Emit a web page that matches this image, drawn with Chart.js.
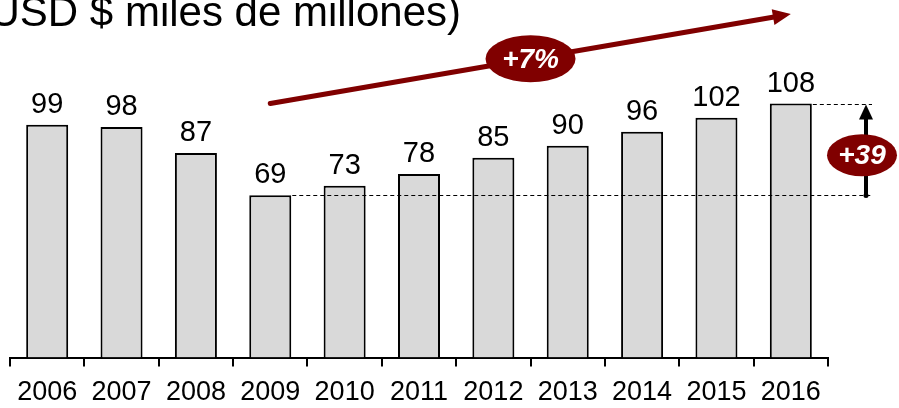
<!DOCTYPE html>
<html>
<head>
<meta charset="utf-8">
<script src="https://cdn.jsdelivr.net/npm/chart.js@4"></script>
<style>
    html, body { margin: 0; padding: 0; background: #ffffff; }
    #box { width: 899px; height: 408px; }
</style>
</head>
<body>
<div id="box"><canvas id="ventas"></canvas></div>
<script>
// datos (USD $ miles de millones)
const years = ['2006','2007','2008','2009','2010','2011','2012','2013','2014','2015','2016'];
const values = [99, 98, 87, 69, 73, 78, 85, 90, 96, 102, 108];
const trendFrom = [3, 108];   // indice de categoria, valor
const trendTo = [10, 146];
const trendLabel = '+7%';
const gapLabel = '+39';
const titleText = 'USD $ miles de millones)';

const RED = '#800000';

function ellipse(ctx, x, y, w, h, text, size) {
    ctx.save();
    ctx.fillStyle = RED;
    ctx.beginPath();
    ctx.ellipse(x, y, w / 2, h / 2, 0, 0, Math.PI * 2);
    ctx.fill();
    ctx.fillStyle = '#ffffff';
    ctx.font = 'italic bold ' + size + 'px "Liberation Sans", Arial, sans-serif';
    ctx.textAlign = 'center';
    ctx.textBaseline = 'middle';
    ctx.fillText(text, x, y + 1);
    ctx.restore();
}

const extras = {
    id: 'extras',
    afterDatasetsDraw(chart) {
        const ctx = chart.ctx;
        const xs = chart.scales.x;
        const ys = chart.scales.y;
        const meta = chart.getDatasetMeta(0);
        const area = chart.chartArea;

        // etiquetas de valor
        ctx.save();
        ctx.fillStyle = '#000';
        ctx.font = '29px "Liberation Sans", Arial, sans-serif';
        ctx.textAlign = 'center';
        ctx.textBaseline = 'alphabetic';
        meta.data.forEach(function(bar, i) {
            ctx.fillText(String(values[i]), bar.x, bar.y - 12);
        });
        ctx.restore();

        // lineas punteadas min / max
        const iMin = values.indexOf(Math.min.apply(null, values));
        const iMax = values.indexOf(Math.max.apply(null, values));
        const barMin = meta.data[iMin];
        const barMax = meta.data[iMax];
        const lineEnd = area.right + 44;
        const yMin = Math.round(ys.getPixelForValue(values[iMin])) + 0.5;
        const yMax = Math.round(ys.getPixelForValue(values[iMax])) + 0.5;
        ctx.save();
        ctx.strokeStyle = '#000';
        ctx.lineWidth = 1;
        ctx.setLineDash([4, 3]);
        ctx.beginPath();
        ctx.moveTo(barMin.x + barMin.width / 2 + 1, yMin);
        ctx.lineTo(lineEnd, yMin);
        ctx.moveTo(barMax.x + barMax.width / 2 + 1, yMax);
        ctx.lineTo(lineEnd, yMax);
        ctx.stroke();
        ctx.restore();

        // flecha vertical de diferencia
        const ax = area.right + 38;
        ctx.save();
        ctx.strokeStyle = '#000';
        ctx.fillStyle = '#000';
        ctx.lineWidth = 4;
        ctx.beginPath();
        ctx.moveTo(ax, yMin);
        ctx.lineTo(ax, yMax + 12);
        ctx.stroke();
        ctx.beginPath();
        ctx.arc(ax, yMin, 2.5, 0, Math.PI * 2);
        ctx.fill();
        ctx.beginPath();
        ctx.moveTo(ax, yMax);
        ctx.lineTo(ax - 7, yMax + 15);
        ctx.lineTo(ax + 7, yMax + 15);
        ctx.closePath();
        ctx.fill();
        ctx.restore();
        ellipse(ctx, ax - 4, ys.getPixelForValue(86), 70, 42, gapLabel, 28);

        // flecha de tendencia
        const x1 = xs.getPixelForValue(trendFrom[0]);
        const y1 = ys.getPixelForValue(trendFrom[1]);
        const x2 = xs.getPixelForValue(trendTo[0]);
        const y2 = ys.getPixelForValue(trendTo[1]);
        const ang = Math.atan2(y2 - y1, x2 - x1);
        ctx.save();
        ctx.strokeStyle = RED;
        ctx.fillStyle = RED;
        ctx.lineWidth = 5;
        ctx.lineCap = 'round';
        ctx.beginPath();
        ctx.moveTo(x1, y1);
        ctx.lineTo(x2 - 14 * Math.cos(ang), y2 - 14 * Math.sin(ang));
        ctx.stroke();
        ctx.translate(x2, y2);
        ctx.rotate(ang);
        ctx.beginPath();
        ctx.moveTo(0, 0);
        ctx.lineTo(-18, -8);
        ctx.lineTo(-18, 8);
        ctx.closePath();
        ctx.fill();
        ctx.restore();
        ellipse(ctx, (x1 + x2) / 2, (y1 + y2) / 2, 90, 47, trendLabel, 28);

        // titulo
        ctx.save();
        ctx.fillStyle = '#000';
        ctx.font = '42px "Liberation Sans", Arial, sans-serif';
        ctx.textAlign = 'right';
        ctx.textBaseline = 'alphabetic';
        ctx.fillText(titleText, 461, 26);
        ctx.restore();
    }
};

const chart = new Chart(document.getElementById('ventas'), {
    type: 'bar',
    data: {
        labels: years,
        datasets: [{
            data: values,
            backgroundColor: '#d9d9d9',
            borderColor: '#000000',
            borderWidth: 2,
            borderSkipped: 'bottom',
            barPercentage: 0.565,
            categoryPercentage: 1
        }]
    },
    options: {
        responsive: true,
        maintainAspectRatio: false,
        animation: false,
        layout: { padding: { top: 0, left: 10, right: 71, bottom: -11 } },
        plugins: {
            legend: { display: false },
            tooltip: { enabled: false }
        },
        scales: {
            y: {
                display: false,
                min: 0,
                max: 152
            },
            x: {
                offset: true,
                grid: {
                    offset: true,
                    drawOnChartArea: false,
                    drawTicks: true,
                    tickLength: 9,
                    color: '#000',
                    lineWidth: 2
                },
                border: { display: true, color: '#000', width: 2 },
                ticks: {
                    color: '#000',
                    padding: 10,
                    font: { size: 27, family: '"Liberation Sans", Arial, sans-serif' },
                    maxRotation: 0,
                    autoSkip: false
                }
            }
        }
    },
    plugins: [extras]
});
</script>
</body>
</html>
